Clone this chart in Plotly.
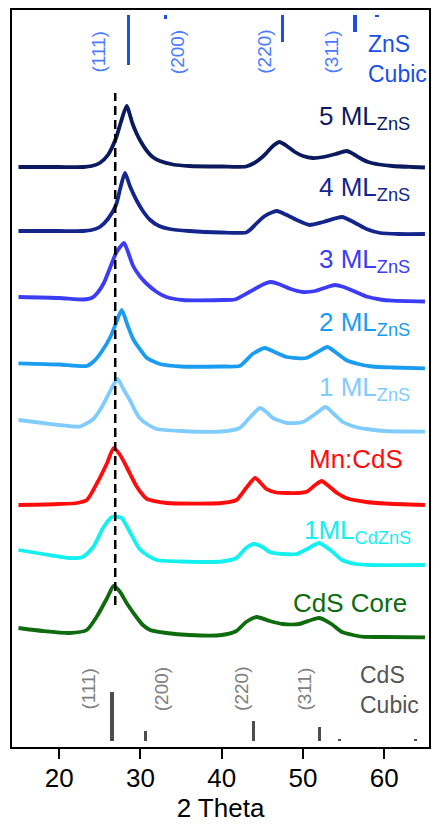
import plotly.graph_objects as go

# ---------------- data ----------------
names = ["5 ML<sub>ZnS</sub>", "4 ML<sub>ZnS</sub>", "3 ML<sub>ZnS</sub>", "2 ML<sub>ZnS</sub>",
         "1 ML<sub>ZnS</sub>", "Mn:CdS", "1ML<sub>CdZnS</sub>", "CdS Core"]
colors = ["#0b1a5e", "#14268c", "#3c3cf5", "#1a9cf0", "#80ccff", "#ff0d0d", "#14f0f0", "#0e6b0e"]
offsets = [580, 516, 449, 382, 319, 243, 188, 114]

tt_5ml = [15, 20, 23, 24, 25, 26, 27, 27.6, 28.3, 29, 29.5, 30, 30.8, 31.5, 32.4, 34, 36, 40, 43, 44, 45,
          45.5, 46.3, 47.1, 48, 49, 50, 51.2, 52.5, 54, 55.4, 56.2, 57, 58, 59.4, 61, 63.4, 65]
ii_5ml = [0, 0, 0, 1, 4, 12, 29, 45, 61, 44, 34, 26, 16, 10, 6, 2.5, 1, 0.5, 0.5, 4, 10,
          14, 21, 25, 21, 15, 11, 9, 10, 13, 16, 13, 9, 5, 2.5, 1, 0, -0.5]

tt_4ml = [15, 20, 23, 24, 25, 26, 27, 27.5, 28.1, 28.7, 29.5, 30.3, 31.2, 32.3, 33.6, 36, 40, 43, 43.6,
          44.2, 45.3, 46.3, 46.8, 48, 49.5, 50.8, 52.5, 54.8, 56.2, 57.8, 59.5, 61.8, 65]
ii_4ml = [0, 0, 0, 1, 4, 12, 26, 42, 58, 45, 31, 20, 11, 5, 2, 0, -1.5, -1.5, 2,
          7, 15, 19, 20, 16, 10, 6, 9, 14, 9, 2, -2, -3, -3]

tt_3ml = [15, 20, 23, 24, 24.7, 25.5, 26.3, 27, 27.5, 28, 28.6, 29.1, 30, 30.8, 32, 33.2, 35.2, 40, 41.6,
          43.4, 44.5, 45.5, 46.1, 47, 48.5, 50, 51.5, 53, 53.9, 55, 56.5, 57.8, 59.5, 61, 65]
ii_3ml = [1, 0, -1.5, 0, 5, 15, 31, 45, 51, 55, 43, 32, 21, 14, 6, 1, -2, -2, -1.5,
          6, 11, 15, 16, 14, 9, 6, 7, 11, 13, 11, 6, 1.5, -1.5, -2.7, -3.5]

tt_2ml = [15, 20, 23.4, 24.3, 25.2, 26.3, 27, 27.7, 28.4, 29.1, 30.1, 30.8, 32.4, 35, 40, 42.2, 42.8,
          43.8, 45.3, 46.5, 48, 50.4, 52, 53, 54.3, 55.3, 56.8, 58.5, 61, 65]
ii_2ml = [1.7, 0.5, -1, 4, 13, 28, 42, 55, 40, 26, 14, 7, 1, -1.5, -1.5, -1, 3,
          11, 17, 13, 8, 7, 14, 18, 11, 5, 1, -1.5, -2.5, -3.3]

tt_1ml = [15, 18, 20, 22.6, 24.2, 25.1, 25.9, 26.6, 27.2, 27.9, 28.7, 29.3, 29.9, 31, 32, 35, 40, 42.2,
          43.4, 44.7, 45.5, 46.3, 48, 50, 51.5, 52.8, 53.8, 54.9, 56.5, 57.8, 60, 65]
ii_1ml = [8, 5, 3, 1.5, 9, 19, 31, 42, 49, 39, 28, 18, 10, 3, -1, -3, -3.5, 0,
          10, 20, 16, 10, 5, 6, 14, 21, 14, 6, 1, -1, -3, -3.7]

tt_mn = [15, 20, 22.2, 23.4, 24.6, 25.9, 26.7, 27.5, 28.3, 29.5, 30.3, 30.8, 33.2, 40, 41.8, 43, 44.1,
         44.8, 45.5, 46.7, 48, 49.5, 50.5, 51.5, 52.3, 53, 54.2, 55.3, 57.8, 60, 65]
ii_mn = [-1, 0, 1, 4, 20, 41, 56, 49, 37, 18, 9, 5, 1, 1, 4, 16, 26,
         21, 15, 11.5, 11, 11, 12.5, 19, 23, 19, 11, 6, 2, 0.5, -1]

tt_cdzns = [15, 18, 21.3, 22.9, 24.2, 25.4, 26.5, 27.2, 27.7, 28.7, 29.3, 29.9, 31, 32, 35, 40, 41.8,
            43, 44, 45, 45.9, 47.5, 49.2, 50.5, 52, 53.5, 54.8, 56.5, 58.2, 65]
ii_cdzns = [9, 5, 1, 2, 12, 31, 42, 42, 41, 27, 18, 10, 3, -1, -2.5, -2.5, 1,
            11, 15, 12, 7, 5, 5, 10, 16, 8, -1, -5, -6, -6]

tt_cds = [15, 18, 21.3, 23.4, 24.6, 25.9, 26.7, 27.5, 28.3, 29.5, 30.3, 31.2, 33.2, 36, 40, 41.8, 43,
          44.3, 45.9, 47.5, 49.5, 51, 52, 53.5, 54.8, 57.3, 60, 65]
ii_cds = [5, 2, 0, 3, 16, 35, 47, 41, 30, 16, 8, 3, 0, -2, -2, 2, 11,
          16, 12, 9, 9, 13, 15, 9, 1, -3.7, -4, -4.3]

thetas = [tt_5ml, tt_4ml, tt_3ml, tt_2ml, tt_1ml, tt_mn, tt_cdzns, tt_cds]
intens = [ii_5ml, ii_4ml, ii_3ml, ii_2ml, ii_1ml, ii_mn, ii_cdzns, ii_cds]
label_y = [630, 559, 487, 424, 359, 288, 216, 144]
label_x = [63.4, 63.4, 63.4, 63.4, 63.4, 62.5, 63.5, 63.0]

# reference patterns
zns_pos = [28.5, 33.1, 47.5, 56.4, 59.1]
zns_h = [50, 4, 27, 17, 2]
zns_hkl = ["(111)", "(200)", "(220)", "(311)"]
zns_hkl_x = [24.73, 34.52, 45.17, 53.5]

cds_pos = [26.5, 30.6, 43.9, 52.0, 54.5, 63.8]
cds_h = [49, 10, 20, 14, 2, 2]
cds_hkl = ["(111)", "(200)", "(220)", "(311)"]
cds_hkl_x = [23.5, 32.56, 42.36, 50.07]

dash_x = 26.9
dash_y = [142, 654]

xticks = [20, 30, 40, 50, 60]

# ---------------- figure ----------------
fig = go.Figure()
FONT = "Arial, Liberation Sans, sans-serif"

for th, ii, off, c in zip(thetas, intens, offsets, colors):
    fig.add_trace(go.Scatter(x=th, y=[v + off for v in ii], mode="lines",
                             line=dict(color=c, width=3.8, shape="spline", smoothing=0.6),
                             showlegend=False, hoverinfo="skip"))

fig.add_trace(go.Scatter(x=[dash_x, dash_x], y=dash_y, mode="lines",
                         line=dict(color="black", width=2.5, dash="9px,5px"),
                         showlegend=False, hoverinfo="skip"))

fig.add_trace(go.Bar(x=zns_pos, y=[-h for h in zns_h], base=732, width=0.4,
                     marker=dict(color="#1f4fe0", line=dict(width=0)), showlegend=False, hoverinfo="skip"))
fig.add_trace(go.Bar(x=cds_pos, y=cds_h, base=6, width=0.4,
                     marker=dict(color="#4d4d4d", line=dict(width=0)), showlegend=False, hoverinfo="skip"))

ann = []
for n, c, lx, ly in zip(names, colors, label_x, label_y):
    ann.append(dict(x=lx, y=ly, text=n, xanchor="right", yanchor="middle", showarrow=False,
                    font=dict(family=FONT, size=26, color=c)))
for t, x in zip(zns_hkl, zns_hkl_x):
    ann.append(dict(x=x, y=695, text=t, textangle=-90, showarrow=False,
                    font=dict(family=FONT, size=19, color="#4d7bff")))
for t, x in zip(cds_hkl, cds_hkl_x):
    ann.append(dict(x=x, y=58, text=t, textangle=-90, showarrow=False,
                    font=dict(family=FONT, size=19, color="#808080")))
ann.append(dict(x=57.8, y=688, text="ZnS<br>Cubic", xanchor="left", align="left", showarrow=False,
                font=dict(family=FONT, size=23, color="#1a4fe6")))
ann.append(dict(x=56.8, y=57, text="CdS<br>Cubic", xanchor="left", align="left", showarrow=False,
                font=dict(family=FONT, size=23, color="#555555")))

fig.update_layout(
    width=434, height=824,
    margin=dict(l=12, r=3, t=10, b=77),
    paper_bgcolor="white", plot_bgcolor="white",
    bargap=0, barmode="overlay",
    annotations=ann,
    xaxis=dict(range=[14.2, 65.5], tickvals=xticks, ticks="outside", ticklen=10, tickwidth=2,
               tickcolor="black", showline=True, linecolor="black", linewidth=2, mirror=True,
               showgrid=False, zeroline=False, ticklabelstandoff=-3,
               tickfont=dict(family=FONT, size=26, color="black"),
               title=dict(text="2 Theta", font=dict(family=FONT, size=26, color="black"), standoff=0)),
    yaxis=dict(range=[0, 737], showticklabels=False, ticks="", showline=True, linecolor="black",
               linewidth=2, mirror=True, showgrid=False, zeroline=False),
)

fig.write_html("out.html")
